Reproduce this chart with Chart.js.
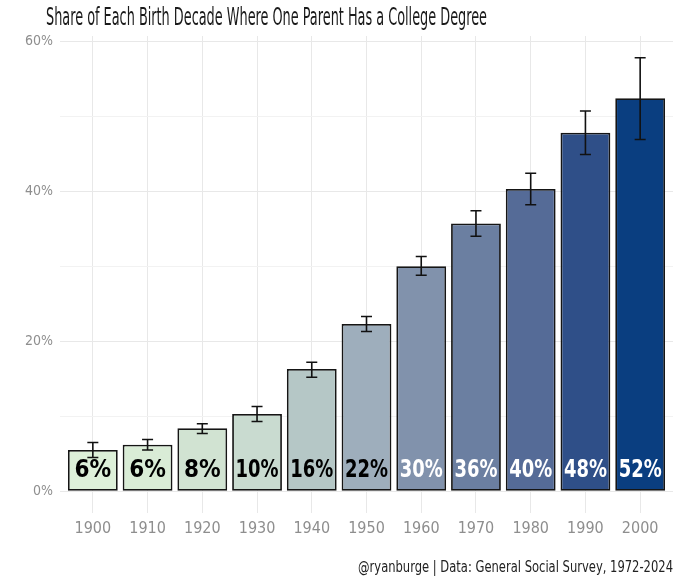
<!DOCTYPE html>
<html>
<head>
<meta charset="utf-8">
<script src="https://cdn.jsdelivr.net/npm/chart.js@4.4.0/dist/chart.umd.min.js"></script>
<style>
  html, body { margin: 0; padding: 0; background: #ffffff; }
  #wrap { width: 680px; height: 583px; position: relative; }
</style>
</head>
<body>
<div id="wrap"><canvas id="myChart" width="680" height="583"></canvas></div>
<script>
// birth decades and share with at least one college-educated parent (%)
const decades = ["1900", "1910", "1920", "1930", "1940", "1950", "1960", "1970", "1980", "1990", "2000"];
const shares = [5.5, 6.2, 8.4, 10.3, 16.3, 22.3, 30.0, 35.7, 40.3, 47.8, 52.4];
const lower = [4.5, 5.5, 7.7, 9.3, 15.2, 21.3, 28.8, 34.0, 38.2, 44.9, 46.9];
const upper = [6.5, 6.9, 9.0, 11.3, 17.2, 23.3, 31.3, 37.4, 42.4, 50.7, 57.8];
const barLabels = ["6%", "6%", "8%", "10%", "16%", "22%", "30%", "36%", "40%", "48%", "52%"];
const barColors = ["#ddf0d9", "#d9ecd6", "#d1e3d2", "#c9dbd0", "#b5c7c6", "#9eaebc", "#8192ac", "#6b7fa1", "#556b97", "#2f4f88", "#0a3e80"];
const labelColors = ["#000", "#000", "#000", "#000", "#000", "#000", "#fff", "#fff", "#fff", "#fff", "#fff"];
const yTicks = [0, 20, 40, 60];

const FONT = '"Liberation Sans Narrow", "DejaVu Sans Condensed", "Roboto", sans-serif';

const extras = {
  id: "extras",
  afterDatasetsDraw(chart) {
    const ctx = chart.ctx;
    const xs = chart.scales.x, ys = chart.scales.y;
    ctx.save();
    // error bars
    ctx.strokeStyle = "#111";
    ctx.lineWidth = 1.6;
    for (let i = 0; i < decades.length; i++) {
      const x = xs.getPixelForValue(i);
      const yl = ys.getPixelForValue(lower[i]);
      const yu = ys.getPixelForValue(upper[i]);
      ctx.beginPath();
      ctx.moveTo(x, yl); ctx.lineTo(x, yu);
      ctx.moveTo(x - 5.5, yl); ctx.lineTo(x + 5.5, yl);
      ctx.moveTo(x - 5.5, yu); ctx.lineTo(x + 5.5, yu);
      ctx.stroke();
    }
    // value labels inside bars
    ctx.font = "bold 24px " + FONT;
    ctx.textAlign = "center";
    ctx.textBaseline = "middle";
    for (let i = 0; i < decades.length; i++) {
      ctx.fillStyle = labelColors[i];
      ctx.fillText(barLabels[i], xs.getPixelForValue(i), ys.getPixelForValue(2.8), 43);
    }
    ctx.restore();
  },
  afterDraw(chart) {
    const ctx = chart.ctx;
    ctx.save();
    ctx.fillStyle = "#1a1a1a";
    ctx.textBaseline = "alphabetic";
    ctx.textAlign = "left";
    ctx.font = "24px " + FONT;
    ctx.fillText("Share of Each Birth Decade Where One Parent Has a College Degree", 46, 25, 441);
    ctx.textAlign = "right";
    ctx.font = "16px " + FONT;
    ctx.fillStyle = "#222";
    ctx.fillText("@ryanburge | Data: General Social Survey, 1972-2024", 673, 572, 315);
    ctx.restore();
  }
};

const ctx = document.getElementById("myChart").getContext("2d");
const myChart = new Chart(ctx, {
  type: "bar",
  data: {
    datasets: [
      {
        data: shares.map((v, i) => ({ x: i, y: v })),
        backgroundColor: barColors,
        borderColor: "#151515",
        borderWidth: 1.8,
        borderSkipped: false,
        barPercentage: 0.91,
        categoryPercentage: 1.0,
      },
    ],
  },
  options: {
    responsive: false,
    animation: false,
    devicePixelRatio: 1,
    layout: { padding: { left: 0, right: 7, top: 36, bottom: 40 } },
    plugins: { legend: { display: false }, tooltip: { enabled: false }, title: { display: false } },
    scales: {
      x: {
        type: "linear",
        min: -0.6,
        max: 10.6,
        offset: false,
        border: { display: false },
        grid: { color: "#e8e8e8", lineWidth: 1, drawTicks: false, offset: false },
        afterFit: (s) => { s.height = 30; },
        ticks: {
          stepSize: 1,
          includeBounds: false,
          autoSkip: false,
          maxRotation: 0,
          padding: 6,
          color: "#8e8e8e",
          font: { family: FONT, size: 16 },
          callback: (v) => decades[v] || "",
        },
      },
      y: {
        min: -2.89,
        max: 60.7,
        border: { display: false },
        grid: {
          lineWidth: 1,
          drawTicks: false,
          color: (c) => (c.tick && c.tick.value % 20 === 0 ? "#e8e8e8" : "#f2f2f2"),
        },
        afterFit: (s) => { s.width = 60; },
        ticks: {
          stepSize: 10,
          includeBounds: false,
          padding: 7,
          color: "#8e8e8e",
          font: { family: FONT, size: 14 },
          callback: (v) => (yTicks.includes(v) ? v + "%" : ""),
        },
      },
    },
  },
  plugins: [extras],
});
</script>
</body>
</html>
